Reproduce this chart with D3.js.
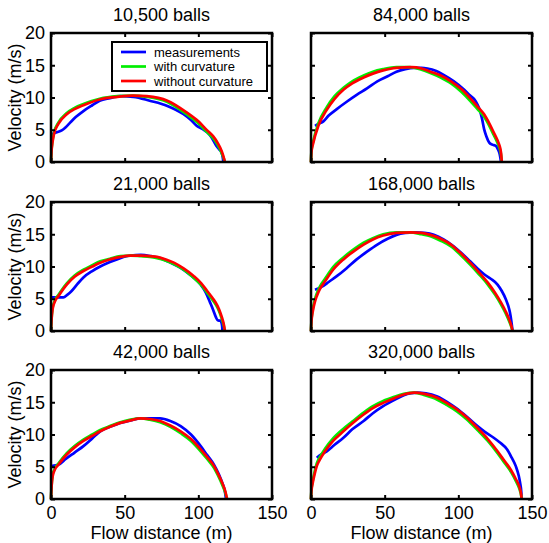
<!DOCTYPE html>
<html>
<head>
<meta charset="utf-8" />
<title>Velocity along flow</title>
<style type="text/css">
  body { margin: 0; background: #fff; }
  svg text { font-family: "Liberation Sans", Arial, sans-serif; fill: #000; }
</style>
<script src="https://d3js.org/d3.v7.min.js"></script>
</head>
<body>
<div id="chart"></div>
<script>

// panel titles, in order (row by row, left then right)
var titles = ["10,500 balls", "84,000 balls", "21,000 balls", "168,000 balls", "42,000 balls", "320,000 balls"];
var seriesNames = ["measurements", "with curvature", "without curvature"];
var seriesColors = ["#0000ff", "#00ee00", "#ff0000"];
var xTicks = [0, 50, 100, 150];
var yTicks = [0, 5, 10, 15, 20];

// [flow distance (m), velocity (m/s)]
var meas10500 = [[0.5,4.3],[4,4.6],[7.3,4.9],[10,5.4],[13,6.1],[17,7.0],[22,7.9],[28,8.8],[33,9.5],[40,9.9],[47,10.2],[56,10.1],[67,9.5],[79,8.7],[90,7.4],[95,6.5],[99,5.6],[103,5.1],[106,4.6],[109,3.8],[112,2.6],[114,2.0],[115.5,1.6],[116.5,0.8],[117,0]];
var curv10500 = [[0,0],[0.3,1.6],[1,3.2],[2,4.5],[5,6.1],[10.7,7.6],[16,8.4],[22,9.0],[33,9.8],[45,10.2],[55,10.3],[65,10.1],[79,9.3],[92,7.4],[100,6.0],[106,4.6],[110,3.7],[113,2.7],[116,1.3],[117.5,0.4],[118,0]];
var flat10500 = [[0,0],[0.3,1.5],[1,3],[2,4.3],[5,5.9],[10.7,7.4],[16,8.2],[22,8.8],[33,9.7],[45,10.1],[56,10.3],[65,10.2],[79,9.5],[92,7.7],[100,6.3],[106,4.9],[110,4.0],[113,3.0],[116,1.6],[117.5,0.5],[118,0]];

var meas84000 = [[2.7,5.6],[5,5.9],[8.4,6.3],[12,7.2],[17.5,8.2],[24,9.3],[31,10.4],[38,11.4],[45,12.5],[52,13.3],[58,14.0],[64,14.4],[70,14.6],[75,14.6],[79,14.5],[85,14.1],[90,13.5],[97,12.5],[104,11.2],[108,10.3],[111,9.7],[113,8.9],[114.5,8.1],[116,6.8],[117.5,5.1],[119,4.0],[121,3.0],[123,2.7],[125.5,2.5],[127,1.9],[128,1.3],[129,0]];
var curv84000 = [[0,0],[0.3,1.7],[1.6,3.3],[5,6.0],[10.7,8.5],[16,10.2],[22,11.5],[28,12.5],[35.7,13.4],[42,14.0],[49,14.4],[58,14.7],[67,14.7],[75,14.3],[81,13.8],[88,13.1],[95,12.2],[102,10.9],[108,9.5],[113,8.2],[117.5,7.0],[121,5.6],[124,4.2],[126.5,3.0],[128,2.1],[129,1.1],[129.5,0]];
var flat84000 = [[0,0],[0.3,1.5],[1.6,3.0],[5,5.6],[10.7,8.1],[16,9.8],[22,11.2],[28,12.2],[35.7,13.1],[42,13.7],[49,14.2],[58,14.6],[68,14.7],[75,14.5],[81,14.0],[88,13.4],[95,12.5],[102,11.3],[108,9.9],[113,8.6],[117.5,7.4],[121,6.0],[124,4.6],[126.5,3.4],[128,2.5],[129,1.4],[129.5,0]];

var meas21000 = [[0.5,5.2],[4,5.2],[8.4,5.2],[11,5.6],[14,6.2],[18,7.3],[22,8.3],[28,9.3],[33.4,10.0],[40,10.7],[47,11.3],[54,11.7],[61,11.8],[68,11.6],[74,11.3],[81,10.6],[88,9.8],[95,8.6],[101.6,7.2],[105,6.0],[108,4.4],[110,3.3],[112,2.1],[113,1.7],[114,1.6],[115,1.6],[116,1.0],[116.4,0]];
var curv21000 = [[0,0],[0.3,1.6],[1.1,3.6],[2.5,4.7],[5,5.6],[10.7,7.4],[16,8.6],[22,9.5],[28,10.2],[33.4,10.8],[40,11.2],[47,11.6],[54,11.7],[61,11.6],[67,11.5],[72,11.3],[78,10.9],[83.4,10.4],[90,9.5],[97,8.2],[102,7.1],[106,5.9],[110,4.7],[113,3.6],[115,2.5],[116,1.8],[117.3,0.8],[118,0]];
var flat21000 = [[0,0],[0.3,1.5],[1.1,3.4],[2.5,4.5],[5,5.4],[10.7,7.2],[16,8.4],[22,9.3],[28,10.0],[33.4,10.6],[40,11.1],[47,11.5],[54,11.7],[61,11.7],[67,11.6],[72,11.5],[78,11.1],[83.4,10.6],[90,9.7],[97,8.5],[102,7.4],[106,6.2],[110,5.0],[113,3.9],[115,2.8],[116,2.1],[117.3,1.0],[118,0]];

var meas168000 = [[2.7,6.4],[5,6.6],[8.4,7.0],[12,7.6],[17.5,8.5],[24,9.7],[31,11.1],[38,12.3],[45,13.4],[52,14.3],[58,14.9],[64,15.2],[70,15.3],[77,15.2],[83.4,14.9],[90,14.2],[97,13.1],[103,11.9],[108,10.8],[113,9.7],[117.5,8.8],[122,8.1],[126.6,7.2],[129.5,6.2],[132.3,4.9],[134,3.8],[135,2.9],[136,1.5],[136.8,0]];
var curv168000 = [[0,0],[0.3,1.6],[1.1,3.2],[2.5,4.8],[3.9,5.8],[6,6.9],[9.5,8.1],[15,9.9],[22,11.4],[28,12.5],[35.7,13.7],[42,14.4],[49,15.0],[58,15.3],[67,15.3],[75,15.0],[81,14.7],[88,14.0],[95,13.1],[101,11.9],[108,10.3],[114,8.8],[120,7.2],[125,5.6],[129,4.1],[132,2.8],[134.5,1.5],[136,0.6],[136.8,0]];
var flat168000 = [[0,0],[0.3,1.4],[1.1,2.9],[2.5,4.4],[3.9,5.4],[6,6.5],[9.5,7.7],[15,9.5],[22,11.1],[28,12.2],[35.7,13.4],[42,14.2],[49,14.8],[58,15.2],[67.5,15.3],[75,15.2],[81,14.9],[88,14.3],[95,13.4],[101,12.2],[108,10.6],[114,9.1],[120,7.5],[125,5.9],[129,4.4],[132,3.1],[134.5,1.8],[136,0.8],[136.8,0]];

var meas42000 = [[0,5.1],[2,5.2],[5,5.3],[10,6.2],[16,7.2],[22,8.2],[28,9.4],[33.4,10.5],[40,11.2],[47,11.8],[54,12.2],[61,12.5],[68,12.5],[74,12.5],[81,12.1],[88,11.3],[95,10.0],[101.6,8.2],[106,6.8],[110.7,5.3],[114,3.8],[116.4,2.4],[118,1.2],[118.8,0]];
var curv42000 = [[0,0],[0.3,1.7],[1.1,3.7],[2.5,4.7],[5,5.5],[10.7,7.1],[16,8.2],[22,9.2],[28,10.0],[33.4,10.7],[40,11.3],[47,11.9],[54,12.3],[61,12.5],[67,12.3],[74,11.9],[81,11.2],[88,10.2],[95,9.0],[101.6,7.4],[106,6.2],[110.7,4.8],[113,3.8],[116.4,2.1],[118.3,1.0],[119.5,0]];
var flat42000 = [[0,0],[0.3,1.5],[1.1,3.5],[2.5,4.5],[5,5.3],[10.7,6.9],[16,8.0],[22,9.0],[28,9.8],[33.4,10.5],[40,11.2],[47,11.8],[54,12.2],[61,12.5],[67,12.4],[74,12.1],[81,11.4],[88,10.5],[95,9.3],[101.6,7.7],[106,6.5],[110.7,5.1],[113,4.1],[116.4,2.4],[118.3,1.2],[119.5,0]];

var meas320000 = [[3.9,6.4],[7,6.9],[10.7,7.4],[16,8.4],[22,9.5],[28,10.8],[35.7,12.1],[42,13.3],[49,14.4],[56,15.3],[63,16.1],[68,16.4],[72,16.5],[78,16.4],[85.7,15.9],[92,15.1],[99,14.0],[106,12.7],[113,11.3],[118,10.4],[124,9.5],[128,8.8],[133,7.7],[136,6.5],[139,5.1],[141,3.6],[142,2.4],[142.7,1.2],[143,0]];
var curv320000 = [[0,0],[0.3,1.4],[1.1,2.7],[2.5,4.3],[3.9,5.5],[6,6.5],[9.5,7.8],[15,9.4],[22,10.9],[28,12.0],[35.7,13.4],[42,14.4],[49,15.2],[56,15.8],[63,16.3],[70,16.5],[77,16.1],[85.7,15.4],[92,14.6],[99,13.6],[106,12.3],[113,10.7],[120,9.0],[126.6,7.1],[131,5.7],[135.7,4.2],[139,2.8],[141.4,1.6],[142.5,0.7],[143,0]];
var flat320000 = [[0,0],[0.3,1.2],[1.1,2.4],[2.5,3.9],[3.9,5.1],[6,6.1],[9.5,7.4],[15,9.0],[22,10.5],[28,11.7],[35.7,13.1],[42,14.1],[49,14.9],[56,15.6],[63,16.2],[70,16.5],[77,16.3],[85.7,15.7],[92,14.9],[99,13.9],[106,12.6],[113,11.0],[120,9.3],[126.6,7.4],[131,6.0],[135.7,4.5],[139,3.1],[141.4,1.9],[142.5,0.9],[143,0]];

var panelSeries = [
  [meas10500, curv10500, flat10500],
  [meas84000, curv84000, flat84000],
  [meas21000, curv21000, flat21000],
  [meas168000, curv168000, flat168000],
  [meas42000, curv42000, flat42000],
  [meas320000, curv320000, flat320000]
];

var W = 549, H = 543;
var colX = [51, 311], rowY = [33, 202, 370];
var pw = 221, ph = 129;

var svg = d3.select("#chart").append("svg")
    .attr("width", W)
    .attr("height", H);

var x = d3.scaleLinear().domain([0, 150]).range([0, pw]);
var y = d3.scaleLinear().domain([0, 20]).range([ph, 0]);

var line = d3.line()
    .x(function(d) { return x(d[0]); })
    .y(function(d) { return y(d[1]); })
    .curve(d3.curveMonotoneX);

titles.forEach(function(t, i) {
  var col = i % 2, row = Math.floor(i / 2);
  var g = svg.append("g")
      .attr("transform", "translate(" + colX[col] + "," + rowY[row] + ")");

  // title
  g.append("text")
      .attr("x", pw / 2)
      .attr("y", -12)
      .attr("text-anchor", "middle")
      .style("font-size", "18px")
      .text(t);

  // curves
  panelSeries[i].forEach(function(s, k) {
    g.append("path")
        .datum(s)
        .attr("fill", "none")
        .attr("stroke", seriesColors[k])
        .attr("stroke-width", 2.7)
        .attr("stroke-linejoin", "round")
        .attr("d", line);
  });

  // inward ticks on all four sides
  var bottom = g.append("g").attr("transform", "translate(0," + ph + ")")
      .call(d3.axisBottom(x).tickValues(xTicks).tickSizeInner(-4).tickSizeOuter(0).tickPadding(7));
  var top = g.append("g")
      .call(d3.axisTop(x).tickValues(xTicks).tickSizeInner(-4).tickSizeOuter(0));
  var left = g.append("g")
      .call(d3.axisLeft(y).tickValues(yTicks).tickSizeInner(-4).tickSizeOuter(0).tickPadding(6));
  var right = g.append("g").attr("transform", "translate(" + pw + ",0)")
      .call(d3.axisRight(y).tickValues(yTicks).tickSizeInner(-4).tickSizeOuter(0));

  [bottom, top, left, right].forEach(function(a) {
    a.select(".domain").remove();
    a.selectAll(".tick line").attr("stroke", "#000").attr("stroke-width", 2);
    a.selectAll(".tick text").style("font-size", "18px").attr("fill", "#000");
  });
  top.selectAll(".tick text").remove();
  right.selectAll(".tick text").remove();
  if (row < 2) bottom.selectAll(".tick text").remove();
  if (col == 1) left.selectAll(".tick text").remove();

  // box
  g.append("rect")
      .attr("width", pw)
      .attr("height", ph)
      .attr("fill", "none")
      .attr("stroke", "#000")
      .attr("stroke-width", 2.5);

  if (col == 0) {
    g.append("text")
        .attr("transform", "translate(-30," + (ph / 2) + ") rotate(-90)")
        .attr("text-anchor", "middle")
        .style("font-size", "18px")
        .text("Velocity (m/s)");
  }
  if (row == 2) {
    g.append("text")
        .attr("x", pw / 2)
        .attr("y", ph + 40)
        .attr("text-anchor", "middle")
        .style("font-size", "18px")
        .text("Flow distance (m)");
  }

  // legend in first panel only
  if (i == 0) {
    var lg = g.append("g").attr("transform", "translate(61,9)");
    lg.append("rect")
        .attr("width", 155)
        .attr("height", 49)
        .attr("fill", "#fff")
        .attr("stroke", "#000")
        .attr("stroke-width", 2);
    seriesNames.forEach(function(n, k) {
      lg.append("line")
          .attr("x1", 9).attr("x2", 34)
          .attr("y1", 10 + k * 14.5).attr("y2", 10 + k * 14.5)
          .attr("stroke", seriesColors[k])
          .attr("stroke-width", 2.7);
      lg.append("text")
          .attr("x", 42)
          .attr("y", 10 + k * 14.5)
          .attr("dy", "0.35em")
          .style("font-size", "13px")
          .text(n);
    });
  }
});

</script>
</body>
</html>
